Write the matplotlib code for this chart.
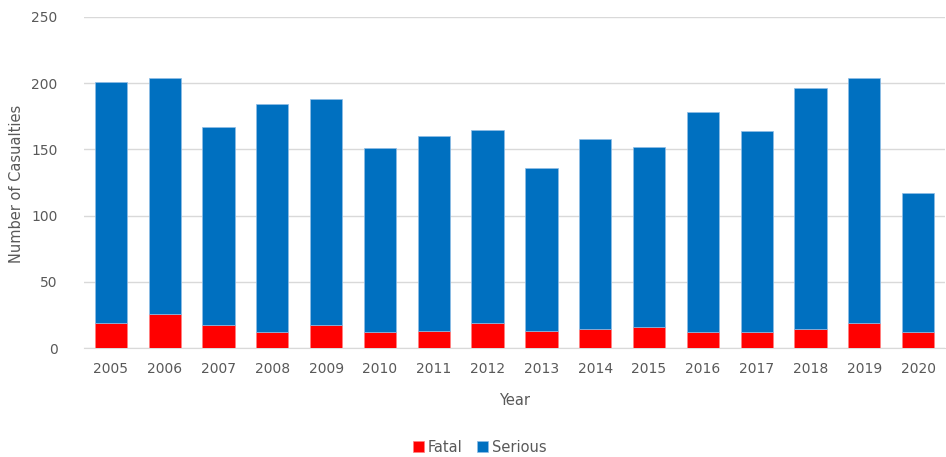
import matplotlib
matplotlib.use('Agg')
from matplotlib import pyplot as plt
import numpy as np

years = ['2005', '2006', '2007', '2008', '2009', '2010', '2011', '2012',
         '2013', '2014', '2015', '2016', '2017', '2018', '2019', '2020']
fatal = [19, 26, 17, 12, 17, 12, 13, 19, 13, 14, 16, 12, 12, 14, 19, 12]
totals = [201, 204, 167, 184, 188, 151, 160, 165, 136, 158, 152, 178, 164, 196, 204, 117]
serious = [t - f for t, f in zip(totals, fatal)]

grey = '#595959'
plt.rcParams['font.family'] = ['DejaVu Sans']

fig = plt.figure(figsize=(9.46, 4.57), dpi=100)
ax = fig.add_axes([84 / 946, 1 - 348 / 457, 861 / 946, 331 / 457])

x = np.arange(len(years))
ax.bar(x, fatal, width=0.6, color='#FF0000', edgecolor='#ff8080', linewidth=0.5,
       label='Fatal', zorder=3)
ax.bar(x, serious, width=0.6, bottom=fatal, color='#0070C0', edgecolor='#8fbde6',
       linewidth=0.5, label='Serious', zorder=3)

ax.set_xlim(-0.5, len(years) - 0.5)
ax.set_ylim(0, 250)
ax.set_yticks(range(0, 251, 50))
ax.set_xticks(x)
ax.set_xticklabels(years)
ax.yaxis.grid(True, color='#d9d9d9', linewidth=1, zorder=0)
ax.set_axisbelow(True)
for s in ['top', 'right', 'left']:
    ax.spines[s].set_visible(False)
ax.spines['bottom'].set_color('#d9d9d9')
ax.tick_params(axis='both', length=0, labelsize=10, colors=grey)
ax.tick_params(axis='y', pad=19)
ax.tick_params(axis='x', pad=10)

ax.set_xlabel('Year', fontsize=10.5, color=grey, labelpad=12)
fig.text(17 / 946, 1 - 184 / 457, 'Number of Casualties', rotation=90,
         fontsize=10.5, color=grey, ha='center', va='center')

fig.legend(loc='center', bbox_to_anchor=(480 / 946, 1 - 447 / 457), ncol=2,
           frameon=False, fontsize=10.5, labelcolor=grey, handlelength=0.7,
           handleheight=0.7, handletextpad=0.3, columnspacing=1.0)

plt.savefig('out.png', dpi=100)
plt.close()
